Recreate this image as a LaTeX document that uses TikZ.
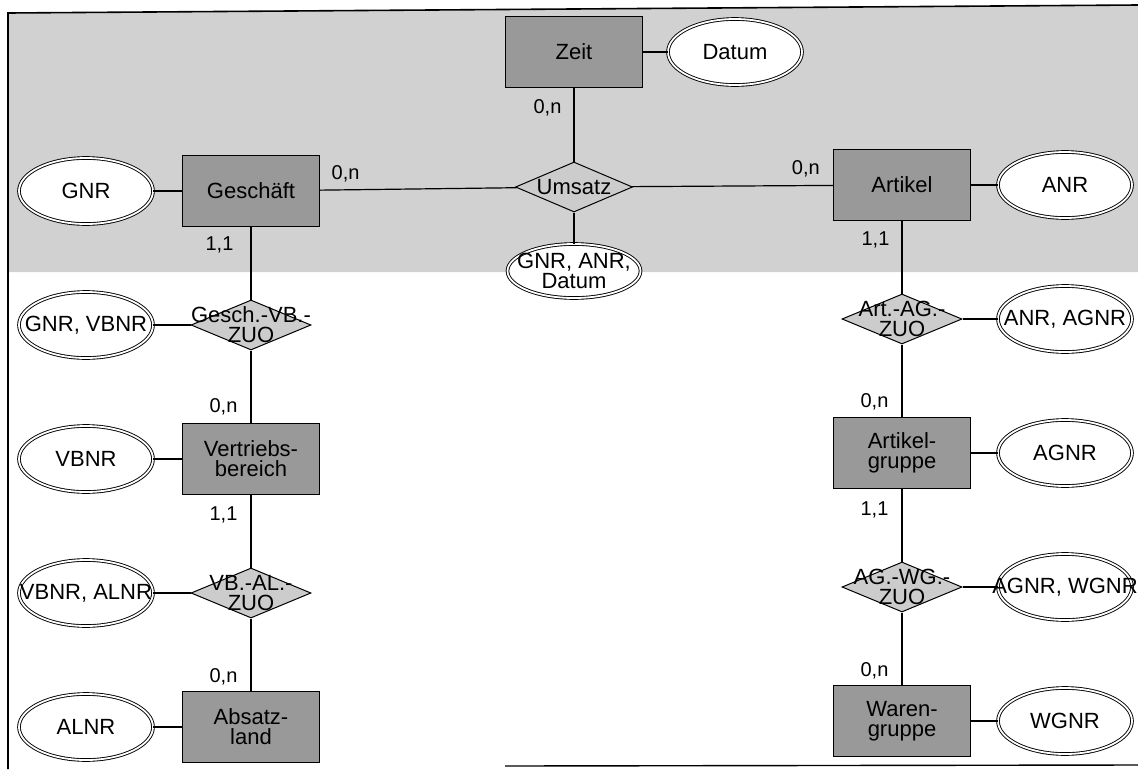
\documentclass[tikz,border=0pt]{standalone}
\usepackage{fontspec}
\setmainfont{Liberation Sans}
\usetikzlibrary{shapes.geometric}
\definecolor{bgshade}{gray}{0.82}
\definecolor{entfill}{gray}{0.60}
\definecolor{relfill}{gray}{0.80}

\begin{document}
\begin{tikzpicture}[
    x=1pt, y=1pt,
    line width=1.2pt,
    node distance=134pt,
    txt/.style={font=\fontsize{22}{20}\selectfont, align=center},
    entity/.style={rectangle, draw=black, line width=1pt, fill=entfill, txt, minimum width=137pt, minimum height=71pt, inner sep=0pt},
    relship/.style={diamond, draw=black, line width=1pt, fill=relfill, minimum width=120pt, minimum height=50pt, inner sep=0pt, label={[txt]center:#1}},
    attrib/.style={ellipse, draw=black, line width=0.9pt, double, double distance=1.8pt, fill=white, minimum width=134pt, minimum height=66pt, inner sep=0pt, label={[txt]center:#1}},
    card/.style={font=\fontsize{20}{20}\selectfont, inner sep=4pt}
]
\useasboundingbox (0,0) rectangle (1138,-769);

% Background and frame
\fill[bgshade] (8,-13) -- (1138,-5) -- (1138,-272) -- (8,-272) -- cycle;
\draw[line width=1.6pt] (8,-769) -- (8,-13) -- (1138,-5);
\draw[line width=1.4pt] (505,-766) -- (1138,-765);

% Nodes
\node (zeit) [entity] at (574,-52) {Zeit};
\node (datum) [attrib={Datum}, node distance=161pt, right of=zeit] {};
\node (umsatz) [relship={Umsatz}, minimum width=117pt, node distance=135pt, below of=zeit] {};
\node (umsatzkey) [attrib={GNR, ANR,\\Datum}, minimum width=133pt, minimum height=54pt, node distance=84pt, below of=umsatz] {};

\node (geschaeft) [entity] at (251,-191) {Geschäft};
\node (gnr) [attrib={GNR}, node distance=165pt, left of=geschaeft] {};
\node (gvbzuo) [relship={Gesch.-VB.-\\ZUO}, below of=geschaeft] {};
\node (gvbkey) [attrib={GNR, VBNR}, node distance=165pt, left of=gvbzuo] {};
\node (vertrieb) [entity, below of=gvbzuo] {Vertriebs-\\bereich};
\node (vbnr) [attrib={VBNR}, node distance=165pt, left of=vertrieb] {};
\node (vbalzuo) [relship={VB.-AL.-\\ZUO}, below of=vertrieb] {};
\node (vbalkey) [attrib={VBNR, ALNR}, node distance=165pt, left of=vbalzuo] {};
\node (absatz) [entity, below of=vbalzuo] {Absatz-\\land};
\node (alnr) [attrib={ALNR}, node distance=165pt, left of=absatz] {};

\node (artikel) [entity] at (902,-185) {Artikel};
\node (anr) [attrib={ANR}, node distance=163pt, right of=artikel] {};
\node (aagzuo) [relship={Art.-AG.-\\ZUO}, below of=artikel] {};
\node (aagkey) [attrib={ANR, AGNR}, node distance=163pt, right of=aagzuo] {};
\node (agruppe) [entity, below of=aagzuo] {Artikel-\\gruppe};
\node (agnr) [attrib={AGNR}, node distance=163pt, right of=agruppe] {};
\node (agwgzuo) [relship={AG.-WG.-\\ZUO}, below of=agruppe] {};
\node (agwgkey) [attrib={AGNR, WGNR}, node distance=163pt, right of=agwgzuo] {};
\node (wgruppe) [entity, below of=agwgzuo] {Waren-\\gruppe};
\node (wgnr) [attrib={WGNR}, node distance=163pt, right of=wgruppe] {};

% Lines
\draw (zeit) -- (datum);
\draw (zeit) -- node (czu) [card, pos=0.27, left=8pt] {0,n} (umsatz);
\draw (geschaeft) -- node (cgu) [card, pos=0.13, above=3pt] {0,n} (umsatz);
\draw (umsatz) -- node (cua) [card, pos=0.865, above=4pt] {0,n} (artikel);
\draw (umsatz) -- (umsatzkey);

\draw (gnr) -- (geschaeft);
\draw (geschaeft) -- node (cg1) [card, pos=0.25, left=13pt] {1,1} (gvbzuo);
\draw (gvbkey) -- (gvbzuo);
\draw (gvbzuo) -- node (cv0) [card, pos=0.78, left=9pt] {0,n} (vertrieb);
\draw (vbnr) -- (vertrieb);
\draw (vertrieb) -- node (cv1) [card, pos=0.27, left=9pt] {1,1} (vbalzuo);
\draw (vbalkey) -- (vbalzuo);
\draw (vbalzuo) -- node (cl0) [card, pos=0.81, left=9pt] {0,n} (absatz);
\draw (alnr) -- (absatz);

\draw (artikel) -- (anr);
\draw (artikel) -- node (ca1) [card, pos=0.26, left=8pt] {1,1} (aagzuo);
\draw (aagzuo) -- (aagkey);
\draw (aagzuo) -- node (cag0) [card, pos=0.79, left=9pt] {0,n} (agruppe);
\draw (agruppe) -- (agnr);
\draw (agruppe) -- node (cag1) [card, pos=0.29, left=9pt] {1,1} (agwgzuo);
\draw (agwgzuo) -- (agwgkey);
\draw (agwgzuo) -- node (cw0) [card, pos=0.81, left=9pt] {0,n} (wgruppe);
\draw (wgruppe) -- (wgnr);

\end{tikzpicture}
\end{document}
